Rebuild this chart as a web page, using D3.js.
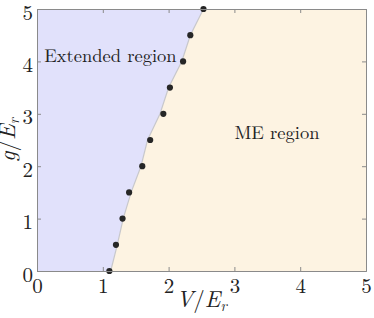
<!DOCTYPE html>
<meta charset="utf-8">
<script src="https://d3js.org/d3.v7.min.js"></script>
<style>
body { margin: 0; background: #fff; }
</style>
<div id="chart"></div>
<script>
// transition points
var pointsV = [1.1, 1.2, 1.3, 1.4, 1.6, 1.72, 1.92, 2.02, 2.22, 2.33, 2.53];
var pointsG = [0, 0.5, 1.0, 1.5, 2.0, 2.5, 3.0, 3.5, 4.0, 4.5, 5.0];
// phase boundary (slightly smoothed)
var boundaryV = [1.12, 1.22, 1.31, 1.43, 1.58, 1.68, 1.87, 2.0, 2.2, 2.33, 2.53];
var boundaryG = [0, 0.5, 1.0, 1.5, 2.0, 2.5, 3.0, 3.5, 4.0, 4.5, 5.0];
var ticks = [0, 1, 2, 3, 4, 5];

var serif = "'Latin Modern Roman', 'Liberation Serif', serif";
var width = 374, height = 318;
var margin = {top: 9, right: 8, bottom: 47, left: 37};

var svg = d3.select("#chart").append("svg")
  .attr("width", width)
  .attr("height", height);

var x = d3.scaleLinear().domain([0, 5]).range([margin.left, width - margin.right]);
var y = d3.scaleLinear().domain([0, 5]).range([height - margin.bottom, margin.top]);

var boundary = boundaryV.map(function(v, i) { return [v, boundaryG[i]]; });
var line = d3.line().x(function(d) { return x(d[0]); }).y(function(d) { return y(d[1]); });

// ME region (right)
svg.append("path")
  .attr("d", line([[5, 0]].concat(boundary).concat([[5, 5]])) + "Z")
  .attr("fill", "#fdf3e2");

// extended region (left)
svg.append("path")
  .attr("d", line([[0, 0]].concat(boundary).concat([[0, 5]])) + "Z")
  .attr("fill", "#e1e1fb");

// boundary line
svg.append("path")
  .datum(boundary)
  .attr("d", line)
  .attr("fill", "none")
  .attr("stroke", "#c8c8cc")
  .attr("stroke-width", 1.2);

// dots
svg.append("g")
  .selectAll("circle")
  .data(pointsV)
  .enter().append("circle")
    .attr("cx", function(d) { return x(d); })
    .attr("cy", function(d, i) { return y(pointsG[i]); })
    .attr("r", 3.1)
    .attr("fill", "#262626");

// axes: inward ticks on all sides
var axisColor = "#8a8a8a";
function styleAxis(g) {
  g.style("font-family", serif).style("font-size", "21px");
  g.select(".domain").attr("stroke", axisColor);
  g.selectAll(".tick line").attr("stroke", axisColor);
  g.selectAll(".tick text").attr("fill", "#222");
}
svg.append("g")
  .attr("transform", "translate(0," + y(0) + ")")
  .call(d3.axisBottom(x).tickValues(ticks).tickSize(-4).tickPadding(5).tickFormat(d3.format("d")))
  .call(styleAxis)
  .selectAll("text").attr("dy", "0.8em");
svg.append("g")
  .attr("transform", "translate(" + x(0) + ",0)")
  .call(d3.axisLeft(y).tickValues(ticks).tickSize(-4).tickPadding(4).tickFormat(d3.format("d")))
  .call(styleAxis)
  .selectAll("text").attr("dy", "0.48em");
svg.append("g")
  .attr("transform", "translate(0," + y(5) + ")")
  .call(d3.axisTop(x).tickValues(ticks).tickSize(-4).tickFormat(""))
  .call(styleAxis);
svg.append("g")
  .attr("transform", "translate(" + x(5) + ",0)")
  .call(d3.axisRight(y).tickValues(ticks).tickSize(-4).tickFormat(""))
  .call(styleAxis);

// region labels
svg.append("text")
  .style("font-family", serif).attr("fill", "#222")
  .attr("x", x(0.11)).attr("y", y(3.98))
  .style("font-size", "18.5px")
  .text("Extended region");
svg.append("text")
  .style("font-family", serif).attr("fill", "#222")
  .attr("x", x(3.0)).attr("y", y(2.52))
  .style("font-size", "18.5px")
  .text("ME region");

// axis labels
var xl = svg.append("text")
  .style("font-family", serif).attr("fill", "#222")
  .attr("x", x(2.5)).attr("y", 307)
  .attr("text-anchor", "middle")
  .style("font-size", "23px");
xl.append("tspan").style("font-style", "italic").text("V");
xl.append("tspan").text("/");
xl.append("tspan").style("font-style", "italic").text("E");
xl.append("tspan").style("font-style", "italic").style("font-size", "15px").attr("dy", 4).text("r");

var yl = svg.append("text")
  .style("font-family", serif).attr("fill", "#222")
  .attr("transform", "translate(15," + y(2.5) + ") rotate(-90)")
  .attr("text-anchor", "middle")
  .style("font-size", "23px");
yl.append("tspan").style("font-style", "italic").text("g");
yl.append("tspan").text("/");
yl.append("tspan").style("font-style", "italic").text("E");
yl.append("tspan").style("font-style", "italic").style("font-size", "15px").attr("dy", 4).text("r");
</script>
